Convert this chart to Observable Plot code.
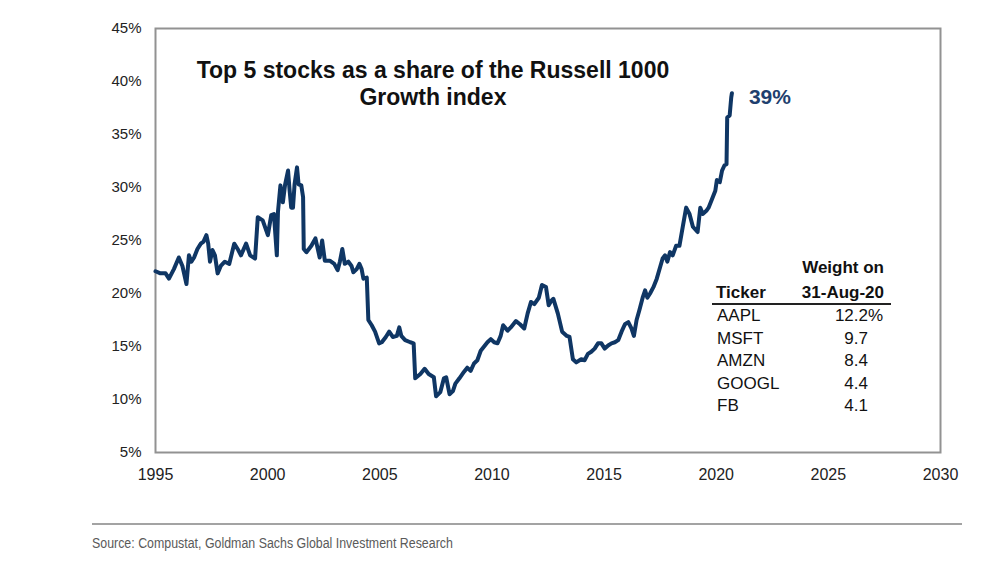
<!DOCTYPE html>
<html>
<head>
<meta charset="utf-8">
<script src="https://cdn.jsdelivr.net/npm/d3@7"></script>
<script src="https://cdn.jsdelivr.net/npm/@observablehq/plot@0.6"></script>
<style>
  html, body { margin: 0; padding: 0; background: #fff; }
  #wrap { position: relative; width: 1000px; height: 565px; overflow: hidden; font-family: "Liberation Sans", Arial, sans-serif; }
  #rule { position: absolute; left: 92px; top: 523px; width: 870px; height: 2px; background: #a3a3a3; }
  #source { position: absolute; left: 92px; top: 535px; font-family: "Liberation Sans Narrow", "Arial Narrow", "Liberation Sans", sans-serif; font-size: 14px; color: #5a5a5a; white-space: nowrap; transform: scaleX(0.885); transform-origin: 0 50%; }
  #table { position: absolute; left: 712px; top: 257px; width: 179px; font-size: 17px; color: #111; }
  #table .line { position: relative; height: 22.4px; line-height: 22.4px; }
  #table .hdr { font-weight: bold; }
  #table .l { position: absolute; left: 5px; }
  #table .r { position: absolute; right: 23px; text-align: right; }
  #table .pct { position: absolute; left: 156px; }
  #table .hr { position: absolute; right: 7px; }
</style>
</head>
<body>
<div id="wrap">
  <div id="chart"></div>
  <div id="table"></div>
  <div id="rule"></div>
  <div id="source"></div>
</div>
<script>
// ---- Data ----
const years = [
  1995.00, 1995.22, 1995.45, 1995.60, 1995.82, 1996.04, 1996.20, 1996.38, 1996.49, 1996.60,
  1996.72, 1996.87, 1997.02, 1997.14, 1997.27, 1997.35, 1997.43, 1997.54, 1997.65, 1997.77,
  1997.91, 1998.09, 1998.29, 1998.51, 1998.69, 1998.81, 1999.04, 1999.22, 1999.44, 1999.56,
  1999.78, 2000.01, 2000.16, 2000.28, 2000.41, 2000.46, 2000.57, 2000.68, 2000.78, 2000.91,
  2000.98, 2001.05, 2001.13, 2001.20, 2001.31, 2001.38, 2001.50, 2001.58, 2001.61, 2001.73,
  2001.95, 2002.13, 2002.32, 2002.43, 2002.55, 2002.77, 2002.97, 2003.12, 2003.22, 2003.33,
  2003.44, 2003.60, 2003.74, 2003.82, 2003.97, 2004.09, 2004.19, 2004.27, 2004.42, 2004.49,
  2004.64, 2004.79, 2004.97, 2005.09, 2005.27, 2005.42, 2005.58, 2005.76, 2005.87, 2005.96,
  2006.13, 2006.36, 2006.51, 2006.58, 2006.81, 2007.00, 2007.18, 2007.41, 2007.51, 2007.70,
  2007.86, 2007.96, 2008.11, 2008.26, 2008.37, 2008.55, 2008.75, 2008.90, 2009.05, 2009.20,
  2009.35, 2009.50, 2009.65, 2009.80, 2009.95, 2010.10, 2010.25, 2010.39, 2010.50, 2010.70,
  2010.84, 2011.07, 2011.25, 2011.44, 2011.59, 2011.74, 2011.89, 2012.09, 2012.23, 2012.41,
  2012.53, 2012.64, 2012.74, 2012.94, 2013.13, 2013.34, 2013.46, 2013.61, 2013.76, 2013.98,
  2014.13, 2014.28, 2014.43, 2014.58, 2014.73, 2014.88, 2015.03, 2015.18, 2015.33, 2015.48,
  2015.63, 2015.78, 2015.93, 2016.08, 2016.22, 2016.33, 2016.45, 2016.57, 2016.72, 2016.83,
  2016.93, 2017.05, 2017.20, 2017.35, 2017.50, 2017.61, 2017.72, 2017.82, 2017.94, 2018.06,
  2018.21, 2018.36, 2018.51, 2018.66, 2018.81, 2018.96, 2019.17, 2019.29, 2019.40, 2019.56,
  2019.66, 2019.81, 2019.96, 2020.03, 2020.16, 2020.26, 2020.37, 2020.46, 2020.49, 2020.60,
  2020.67, 2020.70
];
const shares = [
  22.1, 21.9, 21.9, 21.4, 22.3, 23.4, 22.6, 20.9, 23.6, 23.0,
  23.4, 24.2, 24.7, 24.9, 25.5, 24.7, 23.0, 24.1, 23.6, 21.9,
  22.6, 23.0, 22.8, 24.7, 24.1, 23.6, 24.7, 23.6, 23.3, 27.2,
  26.9, 25.5, 27.4, 27.5, 23.6, 27.7, 30.2, 28.6, 30.3, 31.6,
  29.7, 28.1, 28.1, 30.3, 31.9, 30.3, 30.2, 29.1, 24.2, 23.9,
  24.5, 25.2, 23.4, 25.0, 23.1, 23.1, 22.8, 22.2, 23.0, 24.2,
  22.8, 23.0, 22.6, 22.0, 22.3, 22.8, 22.3, 21.4, 21.5, 17.5,
  17.0, 16.4, 15.3, 15.4, 15.9, 16.4, 15.9, 16.0, 16.8, 16.0,
  15.6, 15.4, 15.3, 12.0, 12.4, 12.9, 12.4, 12.1, 10.3, 10.7,
  12.0, 12.1, 10.5, 10.8, 11.5, 12.0, 12.6, 13.0, 12.7, 13.4,
  13.7, 14.6, 15.0, 15.4, 15.7, 15.4, 15.3, 16.0, 17.0, 16.5,
  16.8, 17.4, 17.1, 16.7, 18.1, 19.2, 19.0, 19.6, 20.8, 20.6,
  18.9, 19.3, 19.5, 18.1, 16.4, 16.0, 15.9, 13.8, 13.5, 13.8,
  13.7, 14.3, 14.5, 14.8, 15.3, 15.3, 14.8, 15.1, 15.3, 15.4,
  15.6, 16.4, 17.1, 17.3, 16.7, 16.0, 17.5, 18.4, 19.6, 20.3,
  19.6, 20.0, 20.6, 21.4, 22.5, 23.3, 23.6, 23.0, 23.9, 23.6,
  24.5, 24.5, 26.3, 28.1, 27.5, 26.3, 25.8, 28.1, 27.5, 27.8,
  28.1, 28.9, 29.7, 30.7, 30.5, 31.6, 32.1, 32.2, 36.6, 36.8,
  38.5, 38.9
];
const xTicks = [1995, 2000, 2005, 2010, 2015, 2020, 2025, 2030];
const yTicks = [5, 10, 15, 20, 25, 30, 35, 40, 45];
const titleText = "Top 5 stocks as a share of the Russell 1000\nGrowth index";
const titlePos = { x: 2007.37, y: 42.1 };
const endLabel = "39%";
const tableHeader = ["Weight on", "Ticker", "31-Aug-20"];
const tickers = ["AAPL", "MSFT", "AMZN", "GOOGL", "FB"];
const weights = ["12.2", "9.7", "8.4", "4.4", "4.1"];
const sourceText = "Source: Compustat, Goldman Sachs Global Investment Research";

// ---- Build ----
const data = years.map((x, i) => ({ x, y: shares[i] }));
const last = data[data.length - 1];
const navy = "#0f3664";

const chart = Plot.plot({
  width: 1000,
  height: 515,
  marginLeft: 155,
  marginRight: 60,
  marginTop: 28,
  marginBottom: 63,
  style: { fontFamily: "'Liberation Sans', Arial, sans-serif", background: "#fff", color: "#222" },
  x: { domain: [1995, 2030], label: null },
  y: { domain: [5, 45], label: null },
  marks: [
    Plot.axisY({ ticks: yTicks, tickFormat: d => d + "%", tickSize: 0, tickPadding: 14, fontSize: 15, label: null }),
    Plot.axisX({ ticks: xTicks, tickFormat: d => String(d), tickSize: 0, tickPadding: 16, fontSize: 16, label: null }),
    Plot.frame({ stroke: "#929292", strokeWidth: 2 }),
    Plot.lineY(data, { x: "x", y: "y", stroke: navy, strokeWidth: 4, strokeLinejoin: "round", curve: "linear" }),
    Plot.text([titleText], { x: () => titlePos.x, y: () => titlePos.y, text: d => d, fontSize: 23, fontWeight: "bold", lineAnchor: "top", lineHeight: 1.16, fill: "#111", textAnchor: "middle" }),
    Plot.text([last], { x: "x", y: "y", text: () => endLabel, textAnchor: "start", dx: 17, dy: 4, fontSize: 21, fontWeight: "bold", fill: "#1f3f6e" })
  ]
});
document.getElementById("chart").appendChild(chart);

// Table
const tbl = document.getElementById("table");
let html = "";
html += `<div class="line hdr"><span class="hr">${tableHeader[0]}</span></div>`;
html += `<div class="line hdr" style="height:20px;line-height:20px;margin-top:4px;border-bottom:2px solid #222;"><span class="l" style="left:4px">${tableHeader[1]}</span><span class="hr">${tableHeader[2]}</span></div>`;
tickers.forEach((t, i) => {
  html += `<div class="line"><span class="l">${t}</span><span class="r">${weights[i]}</span>${i === 0 ? '<span class="pct">%</span>' : ''}</div>`;
});
tbl.innerHTML = html;

document.getElementById("source").textContent = sourceText;
</script>
</body>
</html>
